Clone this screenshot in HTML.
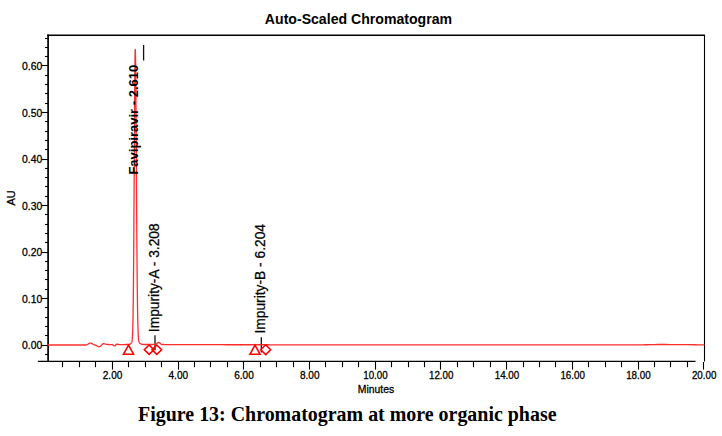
<!DOCTYPE html>
<html><head><meta charset="utf-8"><style>
html,body{margin:0;padding:0;background:#fff;}
body{width:722px;height:436px;overflow:hidden;position:relative;}
svg{position:absolute;left:0;top:0;}
text{font-family:"Liberation Sans",sans-serif;fill:#000;}
.cap{font-family:"Liberation Serif",serif;font-weight:bold;font-size:20px;}
.lab{font-size:13.8px;stroke:#000;stroke-width:0.25px;}
.tk{stroke:#000;stroke-width:0.3px;}
</style></head><body>
<svg width="722" height="436" viewBox="0 0 722 436">
<text x="358.45" y="23.8" text-anchor="middle" textLength="187.2" lengthAdjust="spacingAndGlyphs" style="font-weight:bold;font-size:14px">Auto-Scaled Chromatogram</text>
<g stroke="#000" fill="none">
<line x1="48.1" y1="34.6" x2="48.1" y2="362" stroke-width="1.7"/>
<line x1="47.3" y1="35.3" x2="705" y2="35.3" stroke-width="1.4"/>
<line x1="704.5" y1="35" x2="704.5" y2="361.5" stroke-width="1.1"/>
<line x1="37.9" y1="361.4" x2="695.5" y2="361.4" stroke-width="1.4"/>
<g stroke-width="1.1"><line x1="45.0" y1="354.50" x2="48" y2="354.50"/><line x1="41.5" y1="345.50" x2="48" y2="345.50"/><line x1="45.0" y1="335.50" x2="48" y2="335.50"/><line x1="45.0" y1="326.50" x2="48" y2="326.50"/><line x1="45.0" y1="317.50" x2="48" y2="317.50"/><line x1="45.0" y1="307.50" x2="48" y2="307.50"/><line x1="41.5" y1="298.50" x2="48" y2="298.50"/><line x1="45.0" y1="289.50" x2="48" y2="289.50"/><line x1="45.0" y1="279.50" x2="48" y2="279.50"/><line x1="45.0" y1="270.50" x2="48" y2="270.50"/><line x1="45.0" y1="261.50" x2="48" y2="261.50"/><line x1="41.5" y1="252.50" x2="48" y2="252.50"/><line x1="45.0" y1="242.50" x2="48" y2="242.50"/><line x1="45.0" y1="233.50" x2="48" y2="233.50"/><line x1="45.0" y1="224.50" x2="48" y2="224.50"/><line x1="45.0" y1="214.50" x2="48" y2="214.50"/><line x1="41.5" y1="205.50" x2="48" y2="205.50"/><line x1="45.0" y1="196.50" x2="48" y2="196.50"/><line x1="45.0" y1="186.50" x2="48" y2="186.50"/><line x1="45.0" y1="177.50" x2="48" y2="177.50"/><line x1="45.0" y1="168.50" x2="48" y2="168.50"/><line x1="41.5" y1="159.50" x2="48" y2="159.50"/><line x1="45.0" y1="149.50" x2="48" y2="149.50"/><line x1="45.0" y1="140.50" x2="48" y2="140.50"/><line x1="45.0" y1="131.50" x2="48" y2="131.50"/><line x1="45.0" y1="121.50" x2="48" y2="121.50"/><line x1="41.5" y1="112.50" x2="48" y2="112.50"/><line x1="45.0" y1="103.50" x2="48" y2="103.50"/><line x1="45.0" y1="93.50" x2="48" y2="93.50"/><line x1="45.0" y1="84.50" x2="48" y2="84.50"/><line x1="45.0" y1="75.50" x2="48" y2="75.50"/><line x1="41.5" y1="65.50" x2="48" y2="65.50"/><line x1="45.0" y1="56.50" x2="48" y2="56.50"/><line x1="45.0" y1="47.50" x2="48" y2="47.50"/><line x1="45.0" y1="38.50" x2="48" y2="38.50"/></g>
<g stroke-width="1.1"><line x1="62.50" y1="362" x2="62.50" y2="367.2"/><line x1="79.50" y1="362" x2="79.50" y2="367.2"/><line x1="95.50" y1="362" x2="95.50" y2="367.2"/><line x1="112.50" y1="362" x2="112.50" y2="369.6"/><line x1="128.50" y1="362" x2="128.50" y2="367.2"/><line x1="145.50" y1="362" x2="145.50" y2="367.2"/><line x1="161.50" y1="362" x2="161.50" y2="367.2"/><line x1="178.50" y1="362" x2="178.50" y2="369.6"/><line x1="194.50" y1="362" x2="194.50" y2="367.2"/><line x1="210.50" y1="362" x2="210.50" y2="367.2"/><line x1="227.50" y1="362" x2="227.50" y2="367.2"/><line x1="243.50" y1="362" x2="243.50" y2="369.6"/><line x1="260.50" y1="362" x2="260.50" y2="367.2"/><line x1="276.50" y1="362" x2="276.50" y2="367.2"/><line x1="293.50" y1="362" x2="293.50" y2="367.2"/><line x1="309.50" y1="362" x2="309.50" y2="369.6"/><line x1="325.50" y1="362" x2="325.50" y2="367.2"/><line x1="342.50" y1="362" x2="342.50" y2="367.2"/><line x1="358.50" y1="362" x2="358.50" y2="367.2"/><line x1="375.50" y1="362" x2="375.50" y2="369.6"/><line x1="391.50" y1="362" x2="391.50" y2="367.2"/><line x1="408.50" y1="362" x2="408.50" y2="367.2"/><line x1="424.50" y1="362" x2="424.50" y2="367.2"/><line x1="440.50" y1="362" x2="440.50" y2="369.6"/><line x1="457.50" y1="362" x2="457.50" y2="367.2"/><line x1="473.50" y1="362" x2="473.50" y2="367.2"/><line x1="490.50" y1="362" x2="490.50" y2="367.2"/><line x1="506.50" y1="362" x2="506.50" y2="369.6"/><line x1="523.50" y1="362" x2="523.50" y2="367.2"/><line x1="539.50" y1="362" x2="539.50" y2="367.2"/><line x1="555.50" y1="362" x2="555.50" y2="367.2"/><line x1="572.50" y1="362" x2="572.50" y2="369.6"/><line x1="588.50" y1="362" x2="588.50" y2="367.2"/><line x1="605.50" y1="362" x2="605.50" y2="367.2"/><line x1="621.50" y1="362" x2="621.50" y2="367.2"/><line x1="638.50" y1="362" x2="638.50" y2="369.6"/><line x1="654.50" y1="362" x2="654.50" y2="367.2"/><line x1="670.50" y1="362" x2="670.50" y2="367.2"/><line x1="687.50" y1="362" x2="687.50" y2="367.2"/><line x1="703.50" y1="362" x2="703.50" y2="369.6"/></g>
</g>
<g class="tk" style="font-size:11px"><text x="42.2" y="349.14" text-anchor="end" textLength="20.2" lengthAdjust="spacingAndGlyphs">0.00</text><text x="42.2" y="302.63" text-anchor="end" textLength="20.2" lengthAdjust="spacingAndGlyphs">0.10</text><text x="42.2" y="256.13" text-anchor="end" textLength="20.2" lengthAdjust="spacingAndGlyphs">0.20</text><text x="42.2" y="209.62" text-anchor="end" textLength="20.2" lengthAdjust="spacingAndGlyphs">0.30</text><text x="42.2" y="163.11" text-anchor="end" textLength="20.2" lengthAdjust="spacingAndGlyphs">0.40</text><text x="42.2" y="116.61" text-anchor="end" textLength="20.2" lengthAdjust="spacingAndGlyphs">0.50</text><text x="42.2" y="70.10" text-anchor="end" textLength="20.2" lengthAdjust="spacingAndGlyphs">0.60</text></g>
<g class="tk" style="font-size:11px"><text x="102.77" y="378.9" textLength="19.6" lengthAdjust="spacingAndGlyphs">2.00</text><text x="168.50" y="378.9" textLength="19.6" lengthAdjust="spacingAndGlyphs">4.00</text><text x="234.23" y="378.9" textLength="19.6" lengthAdjust="spacingAndGlyphs">6.00</text><text x="299.96" y="378.9" textLength="19.6" lengthAdjust="spacingAndGlyphs">8.00</text><text x="363.24" y="378.9" textLength="24.5" lengthAdjust="spacingAndGlyphs">10.00</text><text x="428.97" y="378.9" textLength="24.5" lengthAdjust="spacingAndGlyphs">12.00</text><text x="494.70" y="378.9" textLength="24.5" lengthAdjust="spacingAndGlyphs">14.00</text><text x="560.43" y="378.9" textLength="24.5" lengthAdjust="spacingAndGlyphs">16.00</text><text x="626.16" y="378.9" textLength="24.5" lengthAdjust="spacingAndGlyphs">18.00</text><text x="691.89" y="378.9" textLength="24.5" lengthAdjust="spacingAndGlyphs">20.00</text></g>
<text x="376" y="393.3" text-anchor="middle" textLength="36.3" lengthAdjust="spacingAndGlyphs" class="tk" style="font-size:11px">Minutes</text>
<text transform="translate(15.2,197.9) rotate(-90)" text-anchor="middle" class="tk" style="font-size:11px">AU</text>
<g stroke="#111" stroke-width="1.3">
<line x1="143.6" y1="45" x2="143.6" y2="60.5"/>
<line x1="155" y1="335.3" x2="155" y2="350.2"/>
<line x1="261.3" y1="337.2" x2="261.3" y2="352.4"/>
</g>
<text class="lab" transform="translate(158.8,332.2) rotate(-90)">Impurity-A - 3.208</text>
<text class="lab" transform="translate(265.4,333.6) rotate(-90)">Impurity-B - 6.204</text>
<path d="M47.50,345.00 L51.50,345.00 L55.50,345.00 L59.50,345.00 L63.50,345.00 L67.50,345.00 L71.50,345.00 L75.50,345.00 L79.50,345.00 L83.50,345.00 L84.00,345.00 L84.50,345.00 L85.00,345.00 L85.50,345.00 L86.00,345.00 L86.50,344.94 L87.00,344.78 L87.50,344.53 L88.00,344.21 L88.50,343.89 L89.00,343.58 L89.50,343.32 L90.00,343.16 L90.50,343.10 L91.00,343.16 L91.50,343.33 L92.00,343.59 L92.50,343.91 L93.00,344.25 L93.50,344.56 L94.00,344.81 L94.50,344.96 L95.00,345.00 L95.50,345.09 L96.00,345.28 L96.50,345.55 L97.00,345.87 L97.50,346.19 L98.00,346.48 L98.50,346.68 L99.00,346.79 L99.50,346.76 L100.00,346.55 L100.50,346.18 L101.00,345.69 L101.50,345.14 L102.00,344.61 L102.50,344.15 L103.00,343.84 L103.50,343.70 L104.00,343.72 L104.50,343.78 L105.00,343.88 L105.50,344.01 L106.00,344.16 L106.50,344.29 L107.00,344.40 L107.50,344.47 L108.00,344.50 L108.50,344.50 L109.00,344.51 L109.50,344.53 L110.00,344.55 L110.50,344.57 L111.00,344.59 L111.50,344.60 L112.00,344.60 L112.50,344.71 L113.00,345.00 L113.50,345.38 L114.00,345.74 L114.50,345.96 L115.00,345.95 L115.50,345.46 L116.00,344.74 L116.50,344.25 L117.00,344.21 L117.50,344.26 L118.00,344.33 L118.50,344.43 L119.00,344.52 L119.50,344.58 L120.00,344.60 L120.50,344.60 L121.00,344.60 L121.50,344.59 L122.00,344.59 L122.50,344.58 L123.00,344.57 L123.50,344.56 L124.00,344.55 L124.50,344.54 L124.60,344.54 L124.70,344.54 L124.80,344.53 L124.90,344.53 L125.00,344.53 L125.10,344.53 L125.20,344.53 L125.30,344.53 L125.40,344.52 L125.50,344.52 L125.60,344.52 L125.70,344.52 L125.80,344.52 L125.90,344.51 L126.00,344.51 L126.10,344.51 L126.20,344.51 L126.30,344.51 L126.40,344.51 L126.50,344.50 L126.60,344.50 L126.70,344.50 L126.80,344.50 L126.90,344.50 L127.00,344.50 L127.10,344.49 L127.20,344.49 L127.30,344.49 L127.40,344.49 L127.50,344.48 L127.60,344.48 L127.70,344.48 L127.80,344.47 L127.90,344.47 L128.00,344.47 L128.10,344.46 L128.20,344.45 L128.30,344.45 L128.40,344.44 L128.50,344.43 L128.60,344.42 L128.70,344.41 L128.80,344.40 L128.90,344.39 L129.00,344.38 L129.10,344.36 L129.20,344.34 L129.30,344.32 L129.40,344.30 L129.50,344.28 L129.60,344.26 L129.70,344.23 L129.80,344.20 L129.90,344.17 L130.00,344.13 L130.10,344.09 L130.20,344.05 L130.30,344.01 L130.40,343.96 L130.50,343.90 L130.60,343.85 L130.70,343.78 L130.80,343.72 L130.90,343.64 L131.00,343.56 L131.10,343.47 L131.20,343.36 L131.30,343.24 L131.40,343.09 L131.50,342.92 L131.60,342.71 L131.70,342.45 L131.80,342.12 L131.90,341.71 L132.00,341.18 L132.10,340.51 L132.20,339.65 L132.30,338.56 L132.40,337.18 L132.50,335.44 L132.60,333.26 L132.70,330.55 L132.80,327.23 L132.90,323.18 L133.00,318.31 L133.10,312.49 L133.20,305.63 L133.30,297.64 L133.40,288.44 L133.50,277.97 L133.60,266.22 L133.70,253.19 L133.80,238.94 L133.90,223.58 L134.00,207.28 L134.10,190.23 L134.20,172.72 L134.30,155.04 L134.40,137.55 L134.50,120.63 L134.60,104.68 L134.70,90.09 L134.80,77.25 L134.90,66.50 L135.00,58.16 L135.10,52.46 L135.20,49.56 L135.30,49.50 L135.40,51.89 L135.50,56.62 L135.60,63.57 L135.70,72.57 L135.80,83.41 L135.90,95.85 L136.00,109.60 L136.10,124.37 L136.20,139.87 L136.30,155.79 L136.40,171.86 L136.50,187.80 L136.60,203.38 L136.70,218.40 L136.80,232.69 L136.90,246.11 L137.00,258.55 L137.10,269.97 L137.20,280.33 L137.30,289.62 L137.40,297.88 L137.50,305.13 L137.60,311.44 L137.70,316.89 L137.80,321.53 L137.90,325.47 L138.00,328.77 L138.10,331.52 L138.20,333.78 L138.30,335.64 L138.40,337.16 L138.50,338.38 L138.60,339.37 L138.70,340.17 L138.80,340.80 L138.90,341.31 L139.00,341.72 L139.10,342.06 L139.20,342.33 L139.30,342.55 L139.40,342.73 L139.50,342.88 L139.60,343.02 L139.70,343.13 L139.80,343.24 L139.90,343.33 L140.00,343.41 L140.10,343.49 L140.20,343.56 L140.30,343.62 L140.40,343.68 L140.50,343.74 L140.60,343.80 L140.70,343.85 L140.80,343.89 L140.90,343.94 L141.00,343.98 L141.10,344.02 L141.20,344.06 L141.30,344.09 L141.40,344.13 L141.50,344.16 L141.60,344.19 L141.70,344.21 L141.80,344.24 L141.90,344.26 L142.00,344.28 L142.10,344.30 L142.20,344.32 L142.30,344.33 L142.40,344.35 L142.50,344.36 L142.60,344.38 L142.70,344.39 L142.80,344.40 L142.90,344.41 L143.00,344.42 L143.10,344.43 L143.20,344.43 L143.30,344.44 L143.40,344.45 L143.50,344.45 L143.60,344.46 L143.70,344.46 L143.80,344.47 L143.90,344.47 L144.00,344.47 L144.10,344.48 L144.20,344.48 L144.30,344.48 L144.40,344.48 L144.50,344.49 L144.60,344.49 L144.70,344.49 L144.80,344.49 L144.90,344.49 L145.00,344.49 L145.10,344.49 L145.20,344.49 L145.30,344.50 L145.40,344.50 L145.50,344.50 L145.60,344.50 L145.70,344.50 L145.80,344.50 L145.90,344.50 L146.00,344.50 L146.10,344.50 L146.20,344.50 L146.30,344.50 L146.40,344.50 L146.50,344.50 L146.60,344.50 L146.70,344.50 L146.80,344.50 L146.90,344.50 L147.00,344.50 L147.10,344.50 L147.20,344.50 L147.30,344.50 L147.40,344.50 L147.50,344.50 L147.60,344.50 L147.70,344.50 L147.80,344.50 L147.90,344.50 L148.00,344.50 L148.10,344.50 L148.60,344.50 L149.10,344.50 L149.60,344.50 L150.10,344.50 L150.60,344.50 L151.10,344.50 L151.60,344.50 L152.10,344.50 L152.60,344.48 L153.10,344.44 L153.60,344.39 L154.10,344.34 L154.60,344.31 L155.10,344.30 L155.60,344.19 L156.10,343.93 L156.60,343.58 L157.10,343.19 L157.60,342.83 L158.10,342.55 L158.60,342.41 L159.10,342.45 L159.60,342.75 L160.10,343.23 L160.60,343.77 L161.10,344.23 L161.60,344.48 L162.10,344.50 L162.60,344.50 L163.10,344.51 L163.60,344.52 L164.10,344.54 L164.60,344.55 L165.10,344.57 L165.60,344.59 L166.10,344.61 L166.60,344.63 L167.10,344.64 L167.60,344.66 L168.10,344.67 L168.60,344.69 L169.10,344.69 L169.60,344.70 L170.10,344.70 L174.10,344.70 L178.10,344.70 L182.10,344.70 L186.10,344.70 L190.10,344.70 L194.10,344.71 L198.10,344.71 L202.10,344.71 L206.10,344.71 L210.10,344.71 L214.10,344.72 L218.10,344.72 L222.10,344.72 L226.10,344.73 L230.10,344.73 L234.10,344.74 L238.10,344.74 L242.10,344.74 L246.10,344.75 L250.10,344.75 L254.10,344.76 L258.10,344.76 L262.10,344.77 L266.10,344.77 L270.10,344.78 L274.10,344.79 L278.10,344.79 L282.10,344.80 L286.10,344.80 L290.10,344.81 L294.10,344.81 L298.10,344.82 L302.10,344.82 L306.10,344.83 L310.10,344.83 L314.10,344.84 L318.10,344.84 L322.10,344.85 L326.10,344.85 L330.10,344.86 L334.10,344.86 L338.10,344.87 L342.10,344.87 L346.10,344.87 L350.10,344.88 L354.10,344.88 L358.10,344.88 L362.10,344.89 L366.10,344.89 L370.10,344.89 L374.10,344.89 L378.10,344.90 L382.10,344.90 L386.10,344.90 L390.10,344.90 L394.10,344.90 L398.10,344.90 L402.10,344.90 L406.10,344.90 L410.10,344.90 L414.10,344.90 L418.10,344.90 L422.10,344.90 L426.10,344.90 L430.10,344.90 L434.10,344.90 L438.10,344.90 L442.10,344.90 L446.10,344.90 L450.10,344.90 L454.10,344.90 L458.10,344.90 L462.10,344.90 L466.10,344.90 L470.10,344.90 L474.10,344.90 L478.10,344.90 L482.10,344.90 L486.10,344.90 L490.10,344.90 L494.10,344.90 L498.10,344.90 L502.10,344.90 L506.10,344.90 L510.10,344.90 L514.10,344.90 L518.10,344.90 L522.10,344.90 L526.10,344.90 L530.10,344.90 L534.10,344.90 L538.10,344.90 L542.10,344.90 L546.10,344.90 L550.10,344.90 L554.10,344.90 L558.10,344.90 L562.10,344.90 L566.10,344.90 L570.10,344.90 L574.10,344.90 L578.10,344.90 L582.10,344.90 L586.10,344.90 L590.10,344.90 L594.10,344.90 L598.10,344.90 L602.10,344.90 L606.10,344.90 L610.10,344.90 L614.10,344.90 L618.10,344.90 L622.10,344.90 L626.10,344.90 L630.10,344.90 L634.10,344.90 L638.10,344.89 L642.10,344.84 L646.10,344.75 L650.10,344.65 L654.10,344.56 L658.10,344.51 L662.10,344.50 L666.10,344.52 L670.10,344.54 L674.10,344.57 L678.10,344.59 L682.10,344.60 L686.10,344.62 L690.10,344.67 L694.10,344.76 L698.10,344.84 L702.10,344.89 L704.50,344.90" fill="none" stroke="#ff2c2c" stroke-width="1.3" stroke-linejoin="round"/>
<text transform="translate(138.1,174.6) rotate(-90)" style="font-weight:bold;font-size:13px">Favipiravir - 2.610</text>
<g fill="none" stroke="#ff0000" stroke-width="1.6">
<path d="M128.5,345.2 L123.5,354.2 L133.5,354.2 Z"/>
<path d="M149.1,345 L153.9,349.7 L149.1,354.4 L144.3,349.7 Z"/>
<path d="M156.8,345 L161.6,349.7 L156.8,354.4 L152,349.7 Z"/>
<path d="M255,345.2 L250,354.2 L260,354.2 Z"/>
<path d="M265.7,344.8 L270.6,349.7 L265.7,354.6 L260.8,349.7 Z"/>
</g>
<text class="cap" x="138.1" y="421" textLength="418.4" lengthAdjust="spacingAndGlyphs">Figure 13: Chromatogram at more organic phase</text>
</svg>
</body></html>
